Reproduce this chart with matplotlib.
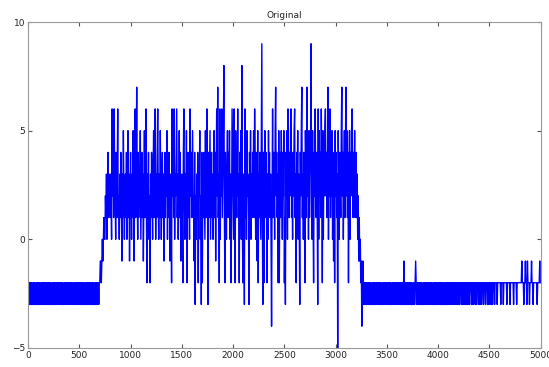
import numpy as np
import matplotlib.pyplot as plt

# samples every 5 steps
step = 5

left_band = [
    -2, -3, -2, -3, -2, -3, -2, -3, -2, -3,
    -3, -2, -3, -2, -3, -3, -2, -3, -2, -3,
    -2, -3, -2, -3, -3, -2, -3, -2, -3, -2,
    -3, -2, -3, -2, -2, -3, -2, -3, -2, -3,
    -2, -3, -2, -3, -2, -3, -3, -2, -3, -2,
    -3, -2, -3, -2, -3, -2, -3, -2, -2, -3,
    -2, -3, -2, -3, -2, -3, -2, -3, -2, -3,
    -3, -2, -3, -2, -3, -2, -3, -2, -3, -2,
    -2, -3, -2, -3, -2, -3, -2, -3, -2, -3,
    -3, -2, -3, -2, -3, -2, -3, -2, -3, -2,
    -2, -3, -2, -3, -2, -3, -2, -3, -2, -3,
    -3, -2, -3, -2, -3, -2, -3, -2, -3, -2,
    -2, -3, -2, -3, -2, -3, -2, -3, -2, -3,
    -3, -2, -3, -2, -3, -2, -3, -2, -3, -2,
]

ramp_up = [-2, -1, -1, -2, -1, 0, -1, 0, 1, 0]

active = [
    0, 2, 1, 3, 0, 2, 4, 1, 3, 2,
    1, 3, 2, 0, 6, 2, 4, 1, 6, 3,
    2, 0, 4, 1, 3, 6, 1, 2, 0, 3,
    1, 4, 2, -1, 3, 1, 5, 2, 0, 2,
    3, 1, 4, 0, 2, 5, 1, 3, -1, 2,
    4, 2, 0, 3, 1, 5, 2, -1, 3, 6,
    1, 3, 7, 2, 0, 4, 1, 3, 2, 5,
    0, 2, 4, 1, 3, -1, 2, 5, 1, 3,
    6, 1, -2, 3, 2, 4, 0, 2, -2, 3,
    1, 4, 2, 0, 3, 5, 1, 2, 6, 0,
    3, 1, 4, 6, 2, 0, 3, 1, 5, 2,
    0, 2, 4, 1, 3, -1, 2, 4, 1, 3,
    2, 5, 0, 3, 1, 4, 2, -1, 3, 1,
    -2, 6, 2, 4, 1, 6, 0, 3, 2, 4,
    6, 1, 3, 0, 2, 5, 1, 4, -1, 2,
    3, 1, -2, 4, 6, 2, 0, 3, 1, 5,
    -2, 2, 4, 1, 3, 0, 6, 2, 4, 1,
    3, 5, 1, 2, -1, 4, -3, 2, 0, 3,
    1, 4, -2, 3, 2, 5, 0, 2, -3, 4,
    -2, 3, 1, 4, 2, 0, 5, 1, 3, 6,
    2, -3, 4, 1, 3, 5, 0, 2, 4, 1,
    3, 0, 2, 5, 1, 4, -1, 3, 6, 2,
    7, 1, 3, -2, 6, 0, 4, 2, 6, 1,
    3, 5, 8, 1, -2, 4, 2, 0, 3, 5,
    1, 4, 2, 5, 0, 3, -2, 1, 6, 4,
    2, 0, 6, 3, -2, 5, 1, 4, 2, 6,
    1, 3, -2, 4, 2, 5, 0, 8, 1, -2,
    3, 2, -3, 6, 1, 4, 0, 5, 2, 3,
    1, -3, 4, 2, 5, 0, 3, 1, 4, 2,
    5, 1, 6, 3, 0, 4, 2, -1, 5, -2,
    3, 1, 4, 2, 0, 5, 9, 1, -3, 4,
    -2, 3, 5, 1, 4, 2, -2, 3, 0, 5,
    2, 4, 1, 3, 0, -4, 2, 6, 1, 4,
    3, 0, 5, 7, 2, 4, 1, 3, -2, 5,
    -2, 2, 4, 1, 5, 3, 0, 4, 2, 5,
    -2, 1, -3, 4, 2, 5, 0, 6, 3, 1,
    4, 2, 5, 6, 1, 3, 0, 4, 2, 5,
    6, 1, 3, -2, 4, 2, 5, 0, 3, 1,
    -3, 4, 2, 5, 7, 1, 3, 0, 4, 2,
    -2, 5, 3, 1, 7, 2, 4, 0, 5, 1,
    3, 4, 9, 2, 0, 5, 1, -2, 4, 2,
    6, 3, 1, 4, 2, -3, 6, 0, 5, 2,
    4, 1, 6, 3, -2, 5, 0, 4, 2, 5,
    6, 2, 4, 1, 3, 7, 0, 5, 2, 6,
    1, 4, 2, 5, 0, 3, -1, 4, -2, 5,
    2, 4, 1, 3, -5, 5, 2, 0, 4, 3,
    1, 5, 7, 2, 4, 0, 3, 5, 1, 4,
    7, 2, 5, 1, 4, -2, 3, 5, 0, 4,
    2, 5, 6, 3, 1, 4, 2, 5, 1, 3,
]

ramp_down = [4, 1, 3, 0, 2, -1, 1, -1, 0, -2,
             -1, -4, -2, -1, -2, -3, -2, -3, -2, -3]

right_band = [
    -2, -3, -2, -3, -2, -3, -2, -3, -2, -3,
    -3, -2, -3, -2, -3, -2, -3, -2, -3, -2,
    -2, -3, -2, -3, -2, -3, -2, -3, -2, -3,
    -3, -2, -3, -2, -3, -2, -3, -2, -3, -2,
    -2, -3, -2, -3, -2, -3, -2, -3, -2, -3,
    -3, -2, -3, -2, -3, -2, -3, -2, -3, -2,
    -2, -3, -2, -3, -2, -3, -2, -3, -2, -3,
    -3, -2, -3, -1, -3, -2, -3, -2, -3, -2,
    -2, -3, -2, -3, -2, -3, -2, -3, -2, -3,
    -3, -2, -3, -2, -3, -2, -1, -2, -3, -2,
    -2, -3, -2, -3, -2, -3, -2, -3, -2, -3,
    -3, -2, -3, -2, -3, -2, -3, -2, -3, -2,
    -2, -3, -2, -3, -2, -3, -2, -3, -2, -3,
    -3, -2, -3, -2, -3, -2, -3, -2, -3, -2,
    -2, -3, -2, -3, -2, -3, -2, -3, -2, -3,
    -3, -2, -3, -2, -3, -2, -3, -2, -3, -2,
    -2, -3, -2, -2, -3, -2, -3, -2, -2, -3,
    -2, -2, -3, -2, -3, -2, -2, -3, -2, -3,
    -2, -3, -2, -2, -2, -3, -2, -3, -2, -2,
    -3, -2, -2, -3, -2, -2, -3, -2, -3, -2,
    -2, -3, -2, -2, -2, -3, -2, -2, -3, -2,
    -2, -2, -3, -2, -2, -3, -2, -2, -2, -3,
    -2, -3, -2, -2, -3, -2, -2, -2, -3, -2,
    -2, -2, -3, -2, -2, -2, -3, -2, -2, -3,
    -2, -2, -2, -3, -2, -2, -3, -2, -2, -2,
    -3, -2, -2, -2, -2, -3, -2, -2, -2, -2,
    -2, -2, -3, -2, -2, -2, -2, -3, -2, -2,
    -2, -2, -2, -2, -3, -2, -2, -2, -2, -2,
    -3, -2, -2, -2, -2, -2, -2, -3, -2, -2,
    -2, -2, -2, -3, -2, -2, -2, -2, -2, -2,
    -2, -2, -2, -1, -2, -2, -2, -3, -2, -2,
    -1, -2, -2, -3, -1, -2, -2, -2, -3, -2,
    -2, -2, -1, -2, -2, -3, -2, -2, -2, -2,
    -2, -2, -2, -3, -2, -2, -2, -2, -1, -2,
]

y = np.array(left_band + ramp_up + active + ramp_down + right_band)
x = np.arange(len(y)) * step

fig = plt.figure(figsize=(5.49, 3.67), dpi=100)
ax = fig.add_axes([0.051, 0.052, 0.934, 0.888])
ax.plot(x, y, color=(0, 0, 1), lw=1.0)

ax.set_xlim(0, 5000)
ax.set_ylim(-5, 10)
ax.set_xticks(np.arange(0, 5001, 500))
ax.set_yticks([-5, 0, 5, 10])
ax.tick_params(direction="in", top=True, right=True, length=3,
               labelsize=6.5, colors="#555555", labelcolor="#222222", pad=2)
for s in ax.spines.values():
    s.set_color("#999999")
    s.set_linewidth(0.8)
ax.set_title("Original", fontsize=6.5, color="#222222", pad=3)

plt.savefig("out.png", dpi=100)
plt.close()
